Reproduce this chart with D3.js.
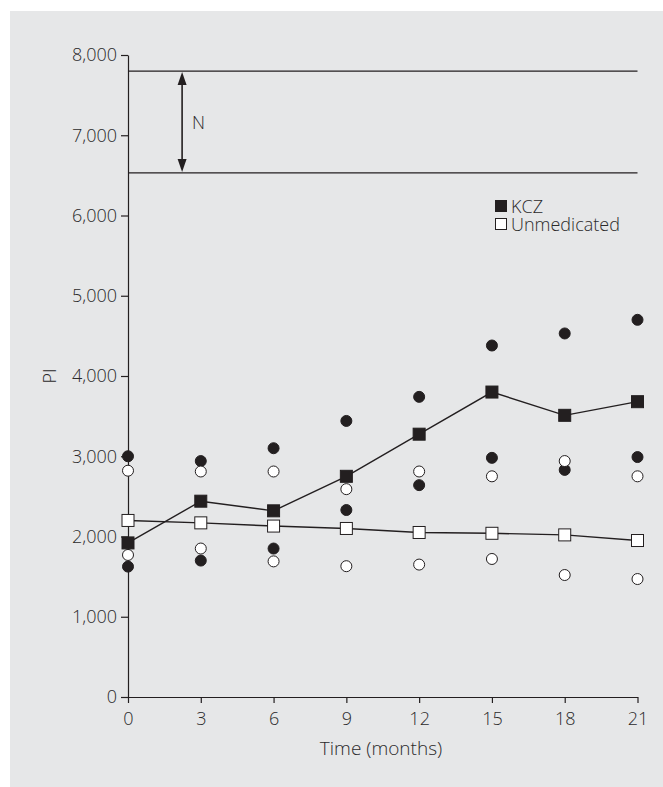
<!DOCTYPE html>
<html>
<head>
<meta charset="utf-8">
<script src="https://cdn.jsdelivr.net/npm/d3@7"></script>
<style>
    body { margin: 0; background: #fff; }
    text { font-family: "Open Sans", Roboto, sans-serif; font-weight: 300; fill: #2b2a2b; }
</style>
</head>
<body>
<div id="chart"></div>
<script>
//DATA
var months = [0, 3, 6, 9, 12, 15, 18, 21];
var kczMean = [1920, 2440, 2320, 2750, 3275, 3800, 3510, 3680];
var unmedMean = [2200, 2170, 2130, 2100, 2050, 2040, 2020, 1950];
var kczHigh = [3000, 2940, 3100, 3440, 3740, 4380, 4530, 4700];
var kczLow = [1625, 1700, 1850, 2330, 2640, 2980, 2830, 2990];
var unmedHigh = [2820, 2810, 2810, 2590, 2810, 2750, 2940, 2750];
var unmedLow = [1770, 1850, 1690, 1630, 1650, 1720, 1520, 1470];
var normalRange = [6530, 7800]; // N band
var yTicks = [0, 1000, 2000, 3000, 4000, 5000, 6000, 7000, 8000];
var legendNames = ["KCZ", "Unmedicated"];

//LAYOUT
var W = 663, H = 787;
var ink = "#231f20";
var fontFam = "'Open Sans', Roboto, sans-serif";

var svg = d3.select("#chart").append("svg")
    .attr("width", W)
    .attr("height", H);

// grey panel
svg.append("rect")
    .attr("x", 10).attr("y", 11)
    .attr("width", W - 10).attr("height", H - 11)
    .attr("fill", "#e6e7e8");

var x = d3.scaleLinear().domain([0, 21]).range([128, 637.5]);
var y = d3.scaleLinear().domain([0, 8000]).range([697, 55]);

/*---------------------------------------AXES--------------------------------------*/
var xAxis = svg.append("g")
    .attr("transform", "translate(0," + y(0) + ")")
    .call(d3.axisBottom(x).tickValues(months).tickSize(6).tickSizeOuter(0).tickPadding(9));

var yAxis = svg.append("g")
    .attr("transform", "translate(" + x(0) + ",0)")
    .call(d3.axisLeft(y).tickValues(yTicks).tickSize(7).tickSizeOuter(0).tickPadding(4)
        .tickFormat(d3.format(",")));

[xAxis, yAxis].forEach(function(a) {
    a.selectAll("path, line").attr("stroke", ink).attr("stroke-width", 1.2);
    a.selectAll("text").attr("font-size", 18).attr("fill", "#2b2a2b")
        .style("font-family", fontFam).style("font-weight", 300);
});

svg.append("text")
    .attr("x", 381)
    .attr("y", 755)
    .attr("text-anchor", "middle")
    .attr("font-size", 19)
    .text("Time (months)");

svg.append("text")
    .attr("transform", "translate(56,376) rotate(-90)")
    .attr("text-anchor", "middle")
    .attr("font-size", 18)
    .text("PI");

/*---------------------------------------NORMAL RANGE--------------------------------------*/
svg.selectAll(".nline")
    .data(normalRange)
    .enter()
    .append("line")
    .attr("x1", x(0)).attr("x2", x(21))
    .attr("y1", function(d) { return y(d); })
    .attr("y2", function(d) { return y(d); })
    .attr("stroke", ink)
    .attr("stroke-width", 1.3);

var ax = x(2.23);
var yTop = y(normalRange[1]), yBot = y(normalRange[0]);
svg.append("line")
    .attr("x1", ax).attr("x2", ax)
    .attr("y1", yTop + 8).attr("y2", yBot - 8)
    .attr("stroke", ink).attr("stroke-width", 1.6);
// arrow heads
svg.append("path")
    .attr("d", "M" + ax + "," + (yTop + 1) + "L" + (ax - 4.5) + "," + (yTop + 14) + "L" + (ax + 4.5) + "," + (yTop + 14) + "Z")
    .attr("fill", ink);
svg.append("path")
    .attr("d", "M" + ax + "," + (yBot - 1) + "L" + (ax - 4.5) + "," + (yBot - 14) + "L" + (ax + 4.5) + "," + (yBot - 14) + "Z")
    .attr("fill", ink);
svg.append("text")
    .attr("x", ax + 10)
    .attr("y", (yTop + yBot) / 2 + 7)
    .attr("font-size", 18)
    .text("N");

/*---------------------------------------POINTS--------------------------------------*/
function drawCircles(values, fill) {
    svg.append("g").selectAll("circle")
        .data(values)
        .enter()
        .append("circle")
        .attr("cx", function(d, i) { return x(months[i]); })
        .attr("cy", function(d) { return y(d); })
        .attr("r", 5.5)
        .attr("fill", fill)
        .attr("stroke", ink)
        .attr("stroke-width", 1);
}

drawCircles(kczHigh, ink);
drawCircles(kczLow, ink);
drawCircles(unmedHigh, "#fff");
drawCircles(unmedLow, "#fff");

function drawSeries(values, fill) {
    var line = d3.line()
        .x(function(d, i) { return x(months[i]); })
        .y(function(d) { return y(d); });

    svg.append("path")
        .datum(values)
        .attr("d", line)
        .attr("fill", "none")
        .attr("stroke", ink)
        .attr("stroke-width", 1.4);

    svg.append("g").selectAll("rect")
        .data(values)
        .enter()
        .append("rect")
        .attr("x", function(d, i) { return x(months[i]) - 6; })
        .attr("y", function(d) { return y(d) - 6; })
        .attr("width", 12)
        .attr("height", 12)
        .attr("fill", fill)
        .attr("stroke", ink)
        .attr("stroke-width", 1);
}

drawSeries(unmedMean, "#fff");
drawSeries(kczMean, ink);

/*---------------------------------------LEGEND--------------------------------------*/
var legend = svg.append("g").attr("transform", "translate(495,200)");
legend.selectAll("rect")
    .data(legendNames)
    .enter()
    .append("rect")
    .attr("x", 0.5)
    .attr("y", function(d, i) { return i * 18 + 0.5; })
    .attr("width", 11)
    .attr("height", 11)
    .attr("fill", function(d, i) { return i == 0 ? ink : "#fff"; })
    .attr("stroke", ink)
    .attr("stroke-width", 1);
legend.selectAll("text")
    .data(legendNames)
    .enter()
    .append("text")
    .attr("x", 16)
    .attr("y", function(d, i) { return i * 18 + 13; })
    .attr("font-size", 18)
    .text(function(d) { return d; });
</script>
</body>
</html>
